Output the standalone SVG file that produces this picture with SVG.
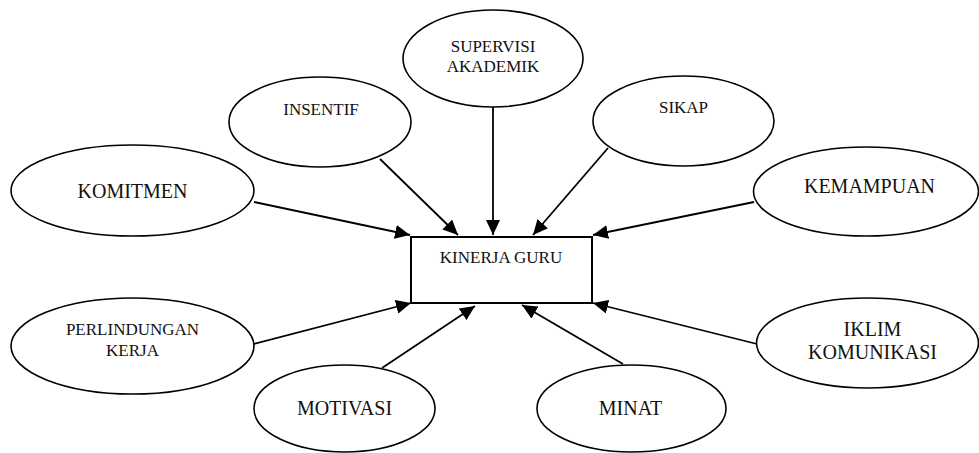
<svg xmlns="http://www.w3.org/2000/svg" width="979" height="453" viewBox="0 0 979 453">
<style>
.n{fill:#fff;stroke:#000;stroke-width:1.6}
.t{font-family:"Liberation Serif","Times New Roman",serif;fill:#111;text-anchor:middle}
.s17{font-size:17px}
.s20{font-size:20px}
.c{stroke:#000;stroke-width:1.8;fill:none;marker-end:url(#ah)}
</style>
<defs>
<marker id="ah" markerUnits="userSpaceOnUse" markerWidth="16" markerHeight="14" refX="15" refY="7" orient="auto">
<path d="M0,0 L15,7 L0,14 z" fill="#000"/>
</marker>
</defs>
<g id="connectors">
<line class="c" x1="493" y1="107" x2="493" y2="235"/>
<line class="c" x1="380" y1="159" x2="458" y2="235"/>
<line class="c" x1="254" y1="202" x2="410" y2="235"/>
<line class="c" x1="608" y1="148" x2="533" y2="235"/>
<line class="c" x1="754" y1="202" x2="593" y2="235"/>
<line class="c" x1="254" y1="344" x2="411" y2="303"/>
<line class="c" x1="382" y1="368" x2="475" y2="306"/>
<line class="c" x1="623" y1="364" x2="522" y2="305"/>
<line class="c" x1="757" y1="344" x2="593" y2="303"/>
</g>
<g id="kinerja-guru">
<rect x="411" y="237" width="181" height="66" fill="#fff" stroke="#000" stroke-width="2"/>
<text class="t s17" x="501" y="263">KINERJA GURU</text>
</g>
<g id="supervisi-akademik">
<ellipse class="n" cx="493" cy="58.5" rx="90" ry="48.5"/>
<text class="t s17" x="493" y="52">SUPERVISI</text>
<text class="t s17" x="493" y="72">AKADEMIK</text>
</g>
<g id="insentif">
<ellipse class="n" cx="320" cy="122" rx="91" ry="45"/>
<text class="t s17" x="321" y="115">INSENTIF</text>
</g>
<g id="sikap">
<ellipse class="n" cx="683.5" cy="121" rx="90.5" ry="45"/>
<text class="t s17" x="683.5" y="113">SIKAP</text>
</g>
<g id="komitmen">
<ellipse class="n" cx="132.5" cy="190.5" rx="121.5" ry="45.5"/>
<text class="t s20" x="132.5" y="198">KOMITMEN</text>
</g>
<g id="kemampuan">
<ellipse class="n" cx="866" cy="191.5" rx="112.5" ry="44.5"/>
<text class="t s20" x="869.5" y="193">KEMAMPUAN</text>
</g>
<g id="perlindungan-kerja">
<ellipse class="n" cx="132.5" cy="346" rx="121.5" ry="48"/>
<text class="t s17" x="132.5" y="335">PERLINDUNGAN</text>
<text class="t s17" x="132.5" y="356">KERJA</text>
</g>
<g id="iklim-komunikasi">
<ellipse class="n" cx="867.5" cy="343" rx="111" ry="45"/>
<text class="t s20" x="872.5" y="336">IKLIM</text>
<text class="t s20" x="872.5" y="359">KOMUNIKASI</text>
</g>
<g id="motivasi">
<ellipse class="n" cx="344.5" cy="408.5" rx="90.5" ry="43.5"/>
<text class="t s20" x="344.5" y="415">MOTIVASI</text>
</g>
<g id="minat">
<ellipse class="n" cx="631.5" cy="408.5" rx="94.5" ry="43.5"/>
<text class="t s20" x="630.5" y="415">MINAT</text>
</g>
</svg>
